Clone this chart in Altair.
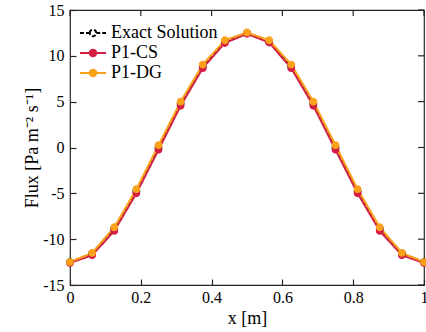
import altair as alt
import pandas as pd

x_vals = [0, 0.0625, 0.125, 0.1875, 0.25, 0.3125, 0.375, 0.4375, 0.5,
          0.5625, 0.625, 0.6875, 0.75, 0.8125, 0.875, 0.9375, 1.0]
exact = [-12.5, -11.55, -8.84, -4.78, 0.0, 4.78, 8.84, 11.55, 12.5,
         11.55, 8.84, 4.78, 0.0, -4.78, -8.84, -11.55, -12.5]
p1_cs = [-12.6, -11.75, -9.1, -5.0, -0.25, 4.55, 8.65, 11.4, 12.4,
         11.45, 8.65, 4.55, -0.25, -5.0, -9.1, -11.75, -12.6]
p1_dg = [-12.5, -11.5, -8.7, -4.55, 0.25, 5.0, 9.05, 11.7, 12.55,
         11.7, 9.05, 5.0, 0.25, -4.55, -8.7, -11.5, -12.5]
series_names = ["Exact Solution", "P1-CS", "P1-DG"]
x_ticks = [0, 0.2, 0.4, 0.6, 0.8, 1.0]
y_ticks = [-15, -10, -5, 0, 5, 10, 15]

rows = []
for name, vals in zip(series_names, [exact, p1_cs, p1_dg]):
    for xv, yv in zip(x_vals, vals):
        rows.append({"x": xv, "y": yv, "series": name})
df = pd.DataFrame(rows)
xt_df = pd.DataFrame({"t": x_ticks})
yt_df = pd.DataFrame({"t": y_ticks})

W, H = 354, 275
TL = 6
FONT = "Liberation Serif"
AX = "#262626"
colors = ["#000000", "#d41f45", "#fca21a"]
fills = ["#ffffff", "#d41f45", "#fca21a"]
dashes = [[4, 2], [1, 0], [1, 0]]

xscale = alt.Scale(domain=[0, 1], nice=False)
yscale = alt.Scale(domain=[-15, 15], nice=False)

sym = "M-2,0H-0.5M0.5,0H2M-0.5,0A0.5,0.5,0,1,1,0.5,0A0.5,0.5,0,1,1,-0.5,0Z"

legend_spec = alt.Legend(orient="none", legendX=14, legendY=14,
                         symbolType=sym, symbolSize=170, symbolStrokeWidth=2,
                         rowPadding=2, labelOffset=9)

x_axis = alt.Axis(values=x_ticks, ticks=False, domain=False, grid=False,
                  labelPadding=4, titlePadding=4, labelExpr="'' + datum.value",
                  labelFlush=False)
y_axis = alt.Axis(values=y_ticks, ticks=False, domain=False, grid=False,
                  labelPadding=6, titlePadding=1, labelExpr="'' + datum.value",
                  labelFlush=False)

color_enc = alt.Color("series:N", title=None,
                      scale=alt.Scale(domain=series_names, range=colors),
                      legend=legend_spec)
dash_enc = alt.StrokeDash("series:N", title=None,
                          scale=alt.Scale(domain=series_names, range=dashes),
                          legend=legend_spec)
fill_enc = alt.Fill("series:N", title=None,
                    scale=alt.Scale(domain=series_names, range=fills),
                    legend=legend_spec)

xm = alt.X("x:Q", scale=xscale, title="x [m]", axis=x_axis)
ym = alt.Y("y:Q", scale=yscale, title="Flux [Pa m⁻² s⁻¹]", axis=y_axis)

lines = alt.Chart(df).mark_line(strokeWidth=2).encode(
    x=xm, y=ym, color=color_enc, strokeDash=dash_enc, detail="series:N")
points = alt.Chart(df).mark_point(shape="circle", size=40, strokeWidth=1.5,
                                  opacity=1, fillOpacity=1).encode(
    x=xm, y=ym, color=color_enc, fill=fill_enc)

main = alt.layer(lines, points)

tick_axis = dict(labels=False, domain=False, grid=False, ticks=True,
                 tickSize=TL, tickColor=AX, tickWidth=1.2, title=None)

# axis ticks at bottom (pointing up) and left (pointing right)
inner = alt.Chart(df).mark_point(opacity=0).encode(
    x=alt.X("x:Q", scale=xscale,
            axis=alt.Axis(orient="top", offset=-H, values=x_ticks, **tick_axis)),
    y=alt.Y("y:Q", scale=yscale,
            axis=alt.Axis(orient="right", offset=-W, values=y_ticks, **tick_axis)))

# inward ticks on top and right frame edges
top_ticks = alt.Chart(xt_df).mark_rule(color=AX, strokeWidth=1.2).encode(
    x=alt.X("t:Q", scale=xscale, axis=None),
    y=alt.value(0), y2=alt.value(TL))
right_ticks = alt.Chart(yt_df).mark_rule(color=AX, strokeWidth=1.2).encode(
    y=alt.Y("t:Q", scale=yscale, axis=None),
    x=alt.value(W), x2=alt.value(W - TL))

chart = alt.layer(main, inner, top_ticks, right_ticks).resolve_axis(
    x="independent", y="independent"
).properties(
    width=W, height=H,
    autosize=alt.AutoSizeParams(type="none"),
    padding={"left": 70, "top": 10, "right": 2, "bottom": 47},
    background="white",
).configure_view(stroke=AX, strokeWidth=1.2
).configure_axis(
    labelFont=FONT, labelFontSize=16, labelColor="black",
    titleFont=FONT, titleFontSize=18, titleFontWeight="normal", titleColor="black"
).configure_legend(
    labelFont=FONT, labelFontSize=18, labelColor="black"
)

chart.save("out.html", embed_options={"renderer": "svg", "actions": False})
